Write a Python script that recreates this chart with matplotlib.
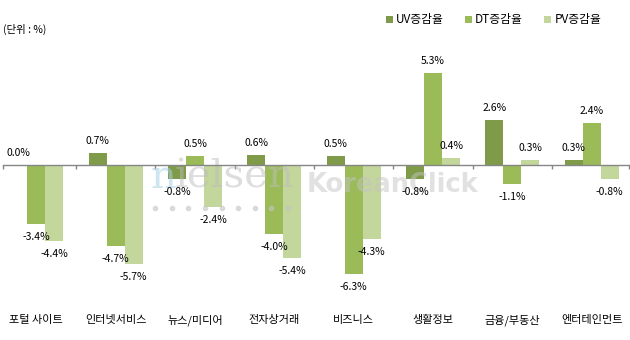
import numpy as np
import matplotlib
matplotlib.use("Agg")
import matplotlib.pyplot as plt

plt.rcParams["font.family"] = ["Noto Sans CJK KR", "DejaVu Sans"]

CATEGORIES = ["포털 사이트", "인터넷서비스", "뉴스/미디어", "전자상거래",
              "비즈니스", "생활정보", "금융/부동산", "엔터테인먼트"]
SERIES = ["UV증감율", "DT증감율", "PV증감율"]
UV = [0.0, 0.7, -0.8, 0.6, 0.5, -0.8, 2.6, 0.3]
DT = [-3.4, -4.7, 0.5, -4.0, -6.3, 5.3, -1.1, 2.4]
PV = [-4.4, -5.7, -2.4, -5.4, -4.3, 0.4, 0.3, -0.8]
COLORS = ["#7f9a48", "#9bbb59", "#c3d69b"]

W, H = 630, 340
fig = plt.figure(figsize=(W / 100, H / 100), dpi=100)

# plot area in pixels: zero line at 165 px from top, ~17.3 px per %
YMIN, YMAX = -8, 7
ppu = 17.3
zero_px = 165
top_px = zero_px - YMAX * ppu
bot_px = zero_px - YMIN * ppu
ax = fig.add_axes([3 / W, 1 - bot_px / H, 626 / W, (bot_px - top_px) / H])
ax.set_xlim(-0.42, 7.47)
ax.set_ylim(YMIN, YMAX)

x = np.arange(len(CATEGORIES))
width = 0.227
bars = []
for i, (vals, col) in enumerate(zip([UV, DT, PV], COLORS)):
    b = ax.bar(x + (i - 1) * width, vals, width, color=col, zorder=3, label=SERIES[i])
    bars.append(b)
    for xi, v in zip(x + (i - 1) * width, vals):
        off = 12 if v >= 0 else -13
        ax.annotate(f"{v:.1f}%", (xi, v), xytext=(0, off), textcoords="offset pixels",
                    ha="center", va="center", fontsize=7.5, color="black", zorder=6)

# axis line at zero with boundary ticks
for s in ["top", "right", "left"]:
    ax.spines[s].set_visible(False)
ax.spines["bottom"].set_position(("data", 0))
ax.spines["bottom"].set_color("#868686")
ax.spines["bottom"].set_linewidth(1.0)
ax.spines["bottom"].set_zorder(5)
xl = ax.get_xlim()
ax.set_xticks([xl[0]] + list(x[:-1] + 0.5) + [xl[1]])
ax.tick_params(axis="x", direction="out", length=3, width=1.0, color="#868686",
               labelbottom=False)
ax.set_yticks([])

lab_y = (bot_px - 320) / (bot_px - top_px)
for xi, c in zip(x, CATEGORIES):
    ax.text(xi, lab_y, c, transform=ax.get_xaxis_transform(), ha="center", va="center",
            fontsize=8, color="black", clip_on=False)

fig.text(3 / W, 1 - 29 / H, "(단위 : %)", ha="left", va="center", fontsize=7.5)

fig.legend(handles=bars, labels=SERIES, ncol=3, frameon=False, fontsize=8.5,
           loc="center left", bbox_to_anchor=(386 / W, 1 - 20 / H),
           borderpad=0, borderaxespad=0, handlelength=0.6, handleheight=0.6,
           handletextpad=0.25, columnspacing=1.8)

# semi-transparent watermark over the bars, under the value labels
tf = fig.transFigure
ax.text(151 / W, 1 - 188 / H, "n", family="DejaVu Serif", fontsize=29, transform=tf,
        color="#a8d2e6", alpha=0.55, ha="left", va="baseline", zorder=4)
ax.text(175 / W, 1 - 188 / H, "ielsen", family="DejaVu Serif", fontsize=29, transform=tf,
        color="#bdbdbd", alpha=0.5, ha="left", va="baseline", zorder=4)
ax.text(307 / W, 1 - 192 / H, "KoreanClick", family="DejaVu Sans", fontweight="bold",
        fontsize=18.5, transform=tf, color="#c4c4c4", alpha=0.5, ha="left",
        va="baseline", zorder=4)
dots_x = np.linspace(155, 288, 9) / W
ax.plot(dots_x, [1 - 208 / H] * 9, transform=tf, ls="none", marker="o", ms=3,
        color="#c4c4c4", alpha=0.55, zorder=4, clip_on=False)

fig.savefig("out.png", dpi=100)
